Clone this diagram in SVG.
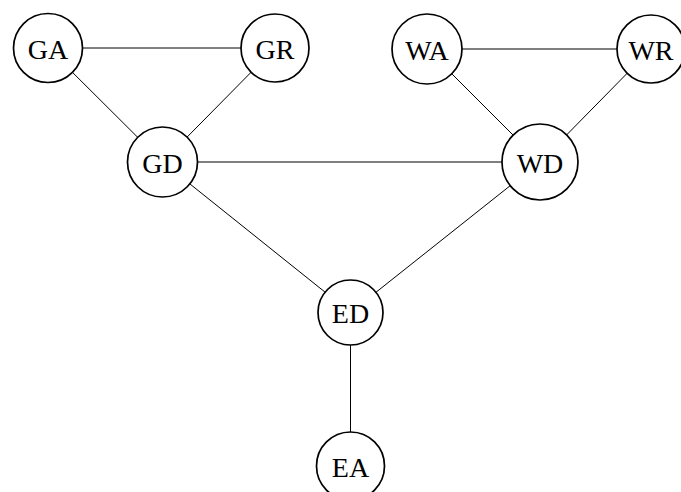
<svg xmlns="http://www.w3.org/2000/svg" width="681" height="492" viewBox="0 0 681 492">
<style>
.n circle{fill:#fff;stroke:#000;stroke-width:1.7}
.n text{font-family:"Liberation Serif","DejaVu Serif",serif;font-size:28px;text-anchor:middle;dominant-baseline:central;fill:#000}
#edges line{stroke:#000;stroke-width:1}
</style>
<rect width="681" height="492" fill="#fff"/>
<g id="edges">
<line x1="48" y1="48" x2="275" y2="48"/>
<line x1="48" y1="48" x2="162.5" y2="162"/>
<line x1="275" y1="48" x2="162.5" y2="162"/>
<line x1="162.5" y1="162" x2="540" y2="162"/>
<line x1="427" y1="49" x2="651" y2="49"/>
<line x1="427" y1="49" x2="540" y2="162"/>
<line x1="651" y1="49" x2="540" y2="162"/>
<line x1="162.5" y1="162" x2="350.5" y2="312.5"/>
<line x1="540" y1="162" x2="350.5" y2="312.5"/>
<line x1="350.5" y1="312.5" x2="350.5" y2="466"/>
</g>
<g id="GA" class="n"><circle cx="48" cy="48" r="34.5"/><text x="48" y="49">GA</text></g>
<g id="GR" class="n"><circle cx="275" cy="48" r="34"/><text x="275" y="49">GR</text></g>
<g id="WA" class="n"><circle cx="427" cy="49" r="35"/><text x="427" y="50">WA</text></g>
<g id="WR" class="n"><circle cx="651" cy="49" r="34"/><text x="651" y="50">WR</text></g>
<g id="GD" class="n"><circle cx="162.5" cy="162" r="35"/><text x="162.5" y="163">GD</text></g>
<g id="WD" class="n"><circle cx="540" cy="162" r="38"/><text x="540" y="163">WD</text></g>
<g id="ED" class="n"><circle cx="350.5" cy="312.5" r="32.5"/><text x="350.5" y="313.5">ED</text></g>
<g id="EA" class="n"><circle cx="350.5" cy="466" r="34"/><text x="350.5" y="467">EA</text></g>
</svg>
